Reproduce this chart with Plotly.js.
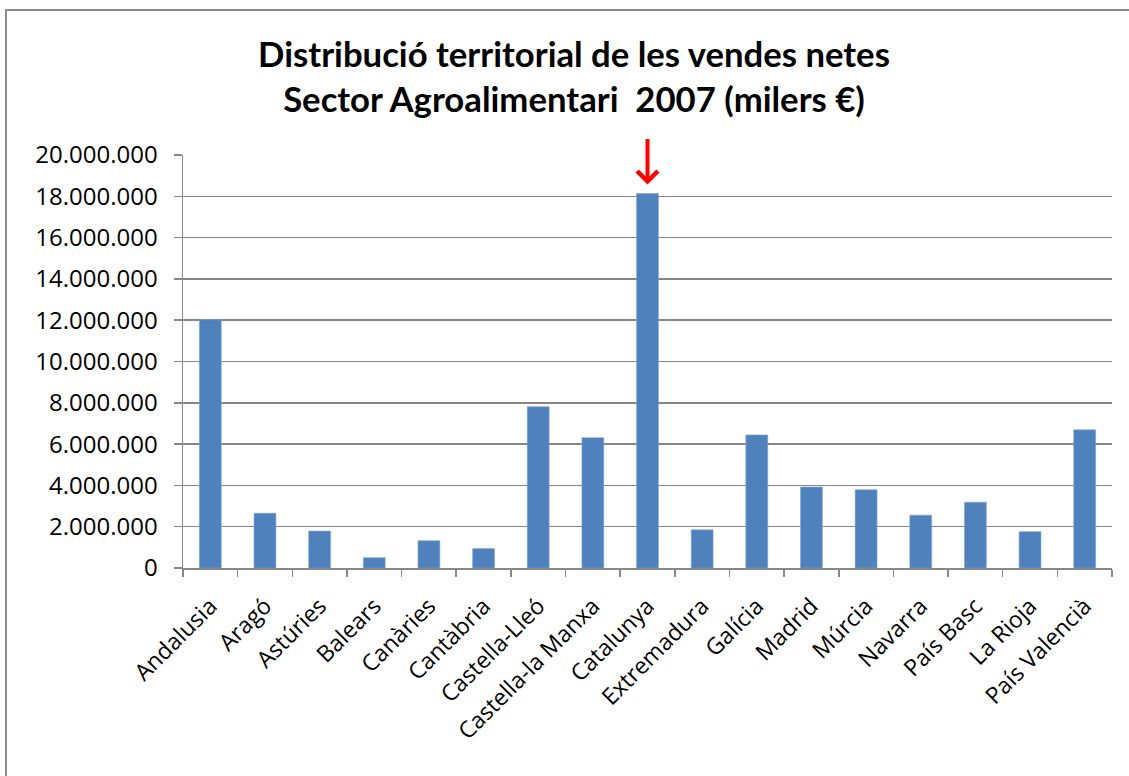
<!DOCTYPE html>
<html>
<head>
<meta charset="utf-8">
<script src="https://cdn.plot.ly/plotly-3.0.1.min.js"></script>
<style>
  html, body { margin: 0; padding: 0; background: #fff; overflow: hidden; }
  #chart { width: 1129px; height: 776px; }
  #frame { position: absolute; left: 5px; top: 9px; width: 1200px; height: 900px;
           border: 2px solid #8c8c8c; pointer-events: none; }
</style>
</head>
<body>
<div id="chart"></div>
<div id="frame"></div>
<script>
const regions = ["Andalusia", "Aragó", "Astúries", "Balears", "Canàries", "Cantàbria",
  "Castella-Lleó", "Castella-la Manxa", "Catalunya", "Extremadura", "Galícia", "Madrid",
  "Múrcia", "Navarra", "País Basc", "La Rioja", "País Valencià"];
const sales = [12020000, 2650000, 1790000, 500000, 1320000, 940000,
  7810000, 6310000, 18130000, 1850000, 6440000, 3920000,
  3790000, 2560000, 3190000, 1760000, 6690000];
const yTicks = [0, 2000000, 4000000, 6000000, 8000000, 10000000, 12000000, 14000000, 16000000, 18000000, 20000000];
const titleLines = ["Distribució territorial de les vendes netes", "Sector Agroalimentari  2007 (milers €)"];
const highlight = "Catalunya";

const trace = {
  type: "bar",
  x: regions,
  y: sales,
  marker: { color: "#4F81BD", line: { color: "#7da2d1", width: 0.6 } },
  hoverinfo: "x+y"
};

const layout = {
  width: 1129, height: 776,
  margin: { l: 183, r: 17, t: 155, b: 208, pad: 0 },
  paper_bgcolor: "#fff", plot_bgcolor: "#fff",
  separators: ",.",
  showlegend: false,
  bargap: 0.6,
  font: { family: "Open Sans, sans-serif", color: "#000" },
  title: {
    text: titleLines.join("<br>"),
    font: { family: "Lato, sans-serif", size: 34.7, color: "#000", weight: "bold" },
    x: 574 / 1129, xref: "container", xanchor: "center",
    y: 1 - 67 / 776, yref: "container", yanchor: "middle"
  },
  xaxis: {
    type: "category",
    tickangle: -45,
    tickfont: { family: "Open Sans, sans-serif", size: 23, color: "#000" },
    ticks: "outside", tickson: "boundaries", ticklen: 7, tickwidth: 1.5, tickcolor: "#888",
    ticklabelstandoff: 14,
    showline: true, linecolor: "#888", linewidth: 1.5,
    showgrid: false, zeroline: false
  },
  yaxis: {
    range: [0, 20000000],
    tickvals: yTicks,
    tickformat: ",d",
    tickfont: { family: "Open Sans, sans-serif", size: 24, color: "#000" },
    ticks: "outside", ticklen: 8, tickwidth: 1.5, tickcolor: "#888",
    ticklabelstandoff: 11,
    showline: true, linecolor: "#888", linewidth: 1.5,
    showgrid: true, gridcolor: "#868686", gridwidth: 1.5,
    zeroline: false
  },
  annotations: [{
    x: highlight, xref: "x",
    y: sales[regions.indexOf(highlight)], yref: "y",
    yshift: 9,
    text: "", showarrow: true,
    ax: 0, ay: -47, axref: "pixel", ayref: "pixel",
    arrowcolor: "#FF0000", arrowwidth: 4, arrowhead: 4, arrowsize: 1, standoff: 0
  }]
};

Plotly.newPlot("chart", [trace], layout, { displayModeBar: false, staticPlot: true });
</script>
</body>
</html>
